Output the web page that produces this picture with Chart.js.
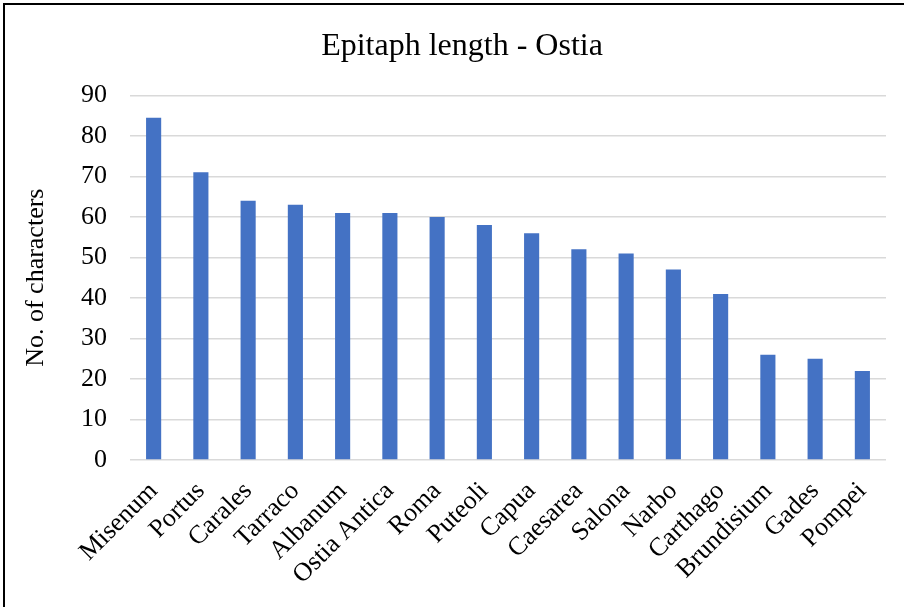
<!DOCTYPE html>
<html>
<head>
<meta charset="utf-8">
<script src="https://cdn.jsdelivr.net/npm/chart.js@4.4.1/dist/chart.umd.min.js"></script>
<style>
  html, body { margin: 0; padding: 0; background: #ffffff; }
  #wrap { position: relative; width: 904px; height: 607px; overflow: hidden; }
  #frame { position: absolute; left: 3px; top: 3px; width: 960px; height: 700px;
           border: 2px solid #000; box-sizing: border-box; }
  canvas { position: absolute; left: 0; top: 0; }
</style>
</head>
<body>
<div id="wrap">
  <div id="frame"></div>
  <canvas id="chart" width="904" height="607"></canvas>
</div>
<script>
// Epitaph length (number of characters) by place of origin
const places = ["Misenum", "Portus", "Carales", "Tarraco", "Albanum", "Ostia Antica",
  "Roma", "Puteoli", "Capua", "Caesarea", "Salona", "Narbo", "Carthago",
  "Brundisium", "Gades", "Pompei"];
const characters = [84.5, 71, 64, 63, 61, 61, 60, 58, 56, 52, 51, 47, 41, 26, 25, 22];
const yTicks = [0, 10, 20, 30, 40, 50, 60, 70, 80, 90];

const serif = "'Liberation Serif', 'Times New Roman', serif";

new Chart(document.getElementById("chart"), {
  type: "bar",
  data: {
    labels: places,
    datasets: [{
      data: characters,
      backgroundColor: "#4472C4",
      borderWidth: 0,
      categoryPercentage: 1,
      barPercentage: 0.32
    }]
  },
  options: {
    responsive: false,
    animation: false,
    layout: { padding: { left: 38, right: 18, top: 0, bottom: 0 } },
    plugins: {
      legend: { display: false },
      tooltip: { enabled: false },
      title: {
        display: true,
        text: "Epitaph length - Ostia",
        color: "#000",
        font: { family: serif, size: 32, weight: "normal" },
        padding: { top: 27, bottom: 30 }
      }
    },
    scales: {
      x: {
        grid: { display: false },
        border: { display: false },
        ticks: {
          color: "#000",
          font: { family: serif, size: 26 },
          minRotation: 45,
          maxRotation: 45,
          autoSkip: false,
          padding: 8
        },
        afterFit: (s) => { s.height = 147; }
      },
      y: {
        min: 0,
        max: 90,
        afterBuildTicks: (s) => { s.ticks = yTicks.map(v => ({ value: v })); },
        grid: { color: "#d9d9d9", lineWidth: 1.5, drawTicks: false },
        border: { display: false },
        ticks: {
          color: "#000",
          font: { family: serif, size: 26 },
          padding: 23
        },
        title: {
          display: true,
          text: "No. of characters",
          color: "#000",
          font: { family: serif, size: 26, weight: "normal" },
          padding: { top: -17, bottom: 0 }
        },
        afterFit: (s) => { s.width = 92; }
      }
    }
  }
});
</script>
</body>
</html>
